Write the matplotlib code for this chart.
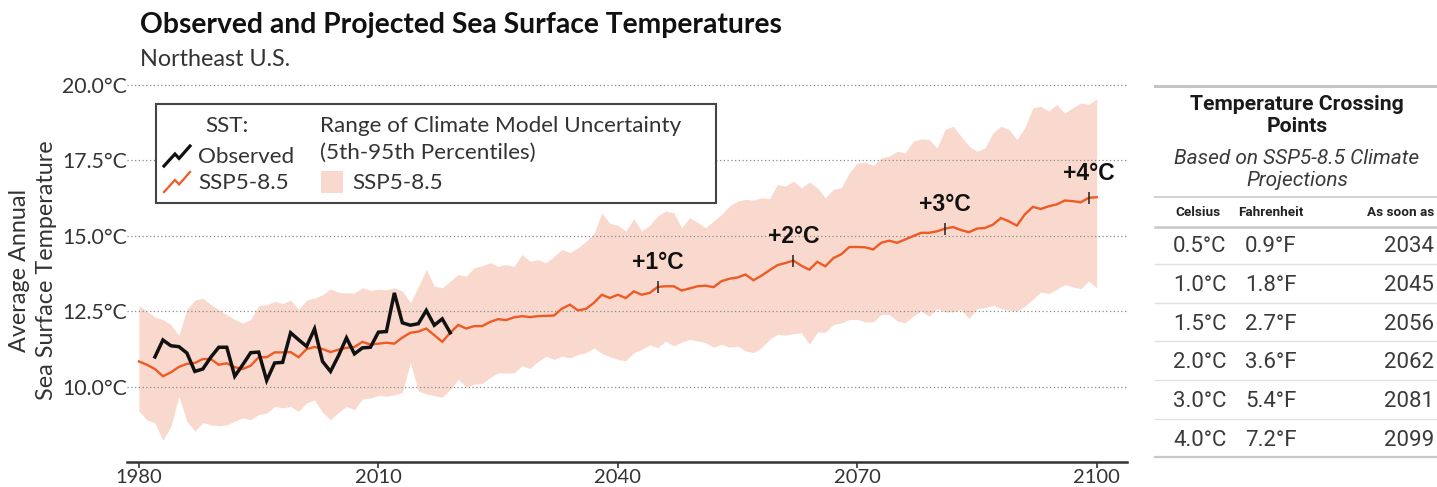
import matplotlib
matplotlib.use("Agg")
import matplotlib.pyplot as plt
from matplotlib.lines import Line2D
from matplotlib.patches import Rectangle

# ---------------------------------------------------------------- data
proj_years = list(range(1980, 2101))

ssp585_median = [
    10.83, 10.72, 10.58, 10.34, 10.47, 10.65, 10.75, 10.78, 10.91, 10.91,  # 1980s
    10.72, 10.77, 10.64, 10.58, 10.69, 10.97, 10.97, 11.13, 11.13, 11.14,  # 1990s
    10.97, 11.24, 11.31, 11.24, 11.14, 11.22, 11.28, 11.31, 11.48, 11.39,  # 2000s
    11.42, 11.45, 11.42, 11.62, 11.78, 11.82, 11.92, 11.70, 11.48, 11.78,  # 2010s
    12.04, 11.92, 12.00, 12.00, 12.14, 12.23, 12.20, 12.29, 12.33, 12.30,  # 2020s
    12.33, 12.34, 12.35, 12.58, 12.71, 12.52, 12.57, 12.77, 13.04, 12.93,  # 2030s
    13.04, 12.93, 13.15, 13.04, 13.10, 13.30, 13.32, 13.32, 13.18, 13.25,  # 2040s
    13.32, 13.34, 13.29, 13.49, 13.57, 13.61, 13.71, 13.52, 13.67, 13.85,  # 2050s
    14.02, 14.09, 14.17, 14.00, 13.87, 14.13, 13.98, 14.25, 14.38, 14.62,  # 2060s
    14.62, 14.61, 14.54, 14.76, 14.83, 14.76, 14.87, 14.98, 15.09, 15.09,  # 2070s
    15.14, 15.23, 15.28, 15.18, 15.11, 15.23, 15.25, 15.36, 15.58, 15.47,  # 2080s
    15.33, 15.70, 15.95, 15.88, 15.97, 16.03, 16.16, 16.14, 16.10, 16.25,  # 2090s
    16.27,                                                                 # 2100
]

ssp585_p95 = [
    12.68, 12.49, 12.30, 12.22, 12.05, 11.69, 12.55, 12.86, 12.93, 12.71,
    12.55, 12.38, 12.22, 12.10, 12.22, 12.68, 12.71, 12.82, 12.75, 12.86,
    12.55, 12.86, 12.93, 13.04, 13.23, 13.12, 13.10, 13.10, 13.27, 13.18,
    13.22, 13.20, 13.27, 13.16, 12.78, 13.30, 13.88, 13.33, 13.27, 13.49,
    13.71, 13.66, 13.93, 14.00, 14.10, 13.98, 14.04, 13.98, 14.37, 14.15,
    14.20, 14.10, 14.31, 14.54, 14.43, 14.59, 14.81, 15.05, 15.75, 15.40,
    15.34, 15.15, 15.56, 15.15, 15.34, 15.65, 15.81, 15.76, 15.26, 15.59,
    15.43, 15.26, 15.48, 15.70, 15.98, 16.14, 16.20, 16.17, 16.25, 16.22,
    16.69, 16.64, 16.80, 16.58, 16.77, 16.58, 16.25, 16.53, 16.58, 17.08,
    17.40, 17.43, 17.32, 17.57, 17.63, 17.79, 17.74, 18.12, 18.20, 18.18,
    17.90, 18.51, 18.62, 18.29, 17.96, 17.79, 17.90, 18.40, 18.62, 18.51,
    18.18, 18.57, 19.23, 19.28, 19.12, 19.34, 19.06, 19.23, 19.39, 19.34,
    19.53,
]

ssp585_p05 = [
    9.18, 8.90, 8.79, 8.22, 8.68, 9.67, 8.85, 8.52, 8.81, 8.73,
    8.70, 8.73, 8.85, 8.96, 8.90, 9.07, 9.12, 9.34, 9.29, 9.34,
    9.18, 9.45, 9.56, 9.14, 8.90, 9.14, 9.34, 9.23, 9.59, 9.62,
    9.70, 9.68, 9.72, 9.80, 10.79, 9.85, 9.75, 9.70, 9.64, 9.90,
    10.24, 9.98, 10.08, 10.10, 10.30, 10.45, 10.45, 10.45, 10.69, 10.60,
    10.83, 11.00, 10.90, 11.00, 10.95, 11.06, 11.12, 11.28, 11.10, 10.98,
    10.90, 10.85, 11.12, 11.23, 11.38, 11.29, 11.51, 11.34, 11.47, 11.56,
    11.51, 11.45, 11.30, 11.40, 11.30, 11.34, 11.18, 11.12, 11.28, 11.56,
    11.73, 11.70, 11.75, 11.78, 11.40, 11.80, 11.80, 12.05, 12.11, 12.22,
    12.22, 12.14, 12.14, 12.39, 12.39, 12.17, 12.11, 12.33, 12.50, 12.33,
    12.58, 12.47, 12.47, 12.55, 12.25, 12.58, 12.61, 12.69, 12.58, 12.53,
    12.50, 12.66, 12.89, 13.13, 13.08, 13.22, 13.38, 13.30, 13.24, 13.49,
    13.27,
]

obs_years = list(range(1982, 2020))
observed_sst = [
    10.98, 11.54, 11.35, 11.32, 11.11, 10.50, 10.58, 10.97,
    11.30, 11.30, 10.34, 10.72, 11.12, 11.14, 10.20, 10.78, 10.80, 11.78,
    11.55, 11.33, 11.91, 10.83, 10.50, 11.02, 11.61, 11.08, 11.28, 11.30,
    11.80, 11.82, 13.10, 12.11, 12.03, 12.08, 12.52, 12.03, 12.24, 11.78,
]

warming_labels = ["+1°C", "+2°C", "+3°C", "+4°C"]
warming_years = [2045, 2062, 2081, 2099]

table_celsius = ["0.5°C", "1.0°C", "1.5°C", "2.0°C", "3.0°C", "4.0°C"]
table_fahrenheit = ["0.9°F", "1.8°F", "2.7°F", "3.6°F", "5.4°F", "7.2°F"]
table_year = ["2034", "2045", "2056", "2062", "2081", "2099"]

x_ticks = [1980, 2010, 2040, 2070, 2100]
y_ticks = [10.0, 12.5, 15.0, 17.5, 20.0]

# ---------------------------------------------------------------- style
ORANGE = "#EE5A24"
BAND = "#F9D9CD"
INK = "#333333"
FONT = "Lato"
TFONT = "Roboto"

W, H = 1437, 487
fig = plt.figure(figsize=(W / 100, H / 100), dpi=100)


def fx(px):
    return px / W


def fy(py):
    return 1 - py / H


# ---------------------------------------------------------------- main plot
ax = fig.add_axes([fx(127), fy(462), fx(1000), 388 / H])
ax.set_xlim(1978.5, 2103.8)
ax.set_ylim(7.5, 20.35)

ax.fill_between(proj_years, ssp585_p05, ssp585_p95, color=BAND, lw=0, zorder=1)
ax.plot(proj_years, ssp585_median, color=ORANGE, lw=1.7, zorder=3,
        solid_joinstyle="miter")
ax.plot(obs_years, observed_sst, color="#111111", lw=2.5, zorder=4,
        solid_joinstyle="miter")

for lab, yr in zip(warming_labels, warming_years):
    val = ssp585_median[proj_years.index(yr)]
    ax.plot([yr], [val], marker="|", markersize=9, mew=1.1, color="#222222",
            zorder=5)
    ax.annotate(lab, (yr, val), xytext=(0, 17.5), textcoords="offset points",
                ha="center", va="center", fontsize=16.5, fontweight="bold",
                family="Liberation Sans", color="#111111", zorder=6)

ax.set_yticks(y_ticks)
ax.set_yticklabels([f"{v:.1f}°C" for v in y_ticks])
ax.set_xticks(x_ticks)
ax.set_xticklabels([str(v) for v in x_ticks])
ax.yaxis.grid(True, linestyle=(0, (1, 2)), color="#8a8a8a", lw=0.9)
ax.set_axisbelow(False)
for ln in ax.get_ygridlines():
    ln.set_zorder(2)

for s in ("top", "right", "left"):
    ax.spines[s].set_visible(False)
ax.spines["bottom"].set_color(INK)
ax.spines["bottom"].set_linewidth(1.8)
ax.tick_params(axis="y", length=0, pad=0, labelsize=15.3, labelcolor=INK)
ax.tick_params(axis="x", length=4, width=1.2, color=INK, pad=1,
               labelsize=14.5, labelcolor=INK)
for t in ax.get_xticklabels() + ax.get_yticklabels():
    t.set_family(FONT)

fig.text(fx(33), fy(270), "Average Annual\nSea Surface Temperature",
         rotation=90, ha="center", va="center", fontsize=16.8, color=INK,
         family=FONT, linespacing=1.3)

# ---------------------------------------------------------------- titles
fig.text(fx(140), fy(25), "Observed and Projected Sea Surface Temperatures",
         ha="left", va="center", fontsize=20.3, fontweight="bold",
         color="#111111", family=FONT)
fig.text(fx(140), fy(59), "Northeast U.S.", ha="left", va="center",
         fontsize=16.8, color=INK, family=FONT)

# ---------------------------------------------------------------- overlay (legend + table), pixel units
ov = fig.add_axes([0, 0, 1, 1], zorder=10)
ov.set_xlim(0, W)
ov.set_ylim(H, 0)
ov.axis("off")
ov.patch.set_alpha(0)

# legend box
ov.add_patch(Rectangle((156, 104), 560, 99, facecolor="white",
                       edgecolor="#444444", lw=1.5))
leg_kw = dict(fontsize=16.2, color=INK, family=FONT, va="center")
ov.text(227, 126, "SST:", ha="center", **leg_kw)


def zigzag(x0, y0, w, h, color, lw):
    xs = [x0, x0 + 0.42 * w, x0 + 0.58 * w, x0 + w]
    ys = [y0 + h, y0 + 0.4 * h, y0 + 0.62 * h, y0]
    ov.add_line(Line2D(xs, ys, color=color, lw=lw, solid_joinstyle="miter"))


zigzag(164, 146, 26, 20, "#111111", 2.3)
zigzag(164, 172, 26, 20, ORANGE, 1.6)
ov.text(198, 157, "Observed", ha="left", **leg_kw)
ov.text(198, 183, "SSP5-8.5", ha="left", **leg_kw)
ov.text(320, 126, "Range of Climate Model Uncertainty", ha="left", **leg_kw)
ov.text(320, 153, "(5th-95th Percentiles)", ha="left", **leg_kw)
ov.add_patch(Rectangle((321, 171), 22, 22, facecolor=BAND, lw=0))
ov.text(352, 183, "SSP5-8.5", ha="left", **leg_kw)

# crossing-point table
TX0, TX1 = 1155, 1437
ov.add_line(Line2D([TX0, TX1], [86, 86], color="#c4c4c4", lw=2.2))
ov.text(1297, 104, "Temperature Crossing", ha="center", va="center",
        fontsize=15.2, fontweight="bold", color="#1a1a1a", family=TFONT)
ov.text(1297, 127, "Points", ha="center", va="center",
        fontsize=15.2, fontweight="bold", color="#1a1a1a", family=TFONT)
ov.text(1297, 158, "Based on SSP5-8.5 Climate", ha="center", va="center",
        fontsize=15, style="italic", color="#3a3a3a", family=TFONT)
ov.text(1297, 180, "Projections", ha="center", va="center",
        fontsize=15, style="italic", color="#3a3a3a", family=TFONT)
ov.add_line(Line2D([TX0, TX1], [197, 197], color="#d2d2d2", lw=1.5))

col_c, col_f, col_y = 1200, 1271, 1434
hdr_kw = dict(va="center", fontsize=9.7, fontweight="bold", color="#222222",
              family=TFONT)
ov.text(col_c - 2, 213, "Celsius", ha="center", **hdr_kw)
ov.text(col_f, 213, "Fahrenheit", ha="center", **hdr_kw)
ov.text(col_y, 213, "As soon as", ha="right", **hdr_kw)
ov.add_line(Line2D([TX0, TX1], [227, 227], color="#c8c8c8", lw=1.8))

row_h = 38.6
body_kw = dict(va="center", fontsize=16, color="#3a3a3a", family=TFONT)
for i, (c, f, yv) in enumerate(zip(table_celsius, table_fahrenheit, table_year)):
    yc = 247 + i * row_h
    ov.text(col_c, yc, c, ha="center", **body_kw)
    ov.text(col_f, yc, f, ha="center", **body_kw)
    ov.text(col_y, yc, yv, ha="right", **body_kw)
    yl = 227 + (i + 1) * row_h - 1.5
    last = i == len(table_year) - 1
    ov.add_line(Line2D([TX0, TX1], [yl, yl],
                       color="#c8c8c8" if last else "#e0e0e0",
                       lw=1.6 if last else 1.0))

fig.savefig("out.png", dpi=100)
